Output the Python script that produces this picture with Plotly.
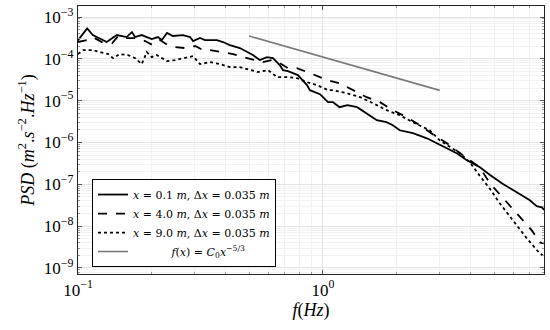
import plotly.graph_objects as go

# Solid: x = 0.1 m
f_a = [0.099, 0.109, 0.115, 0.131, 0.144, 0.158, 0.166, 0.171, 0.182, 0.200, 0.212, 0.220, 0.231, 0.244,
       0.268, 0.287, 0.295, 0.315, 0.330, 0.369, 0.391, 0.417, 0.458, 0.490, 0.518, 0.553, 0.591, 0.625,
       0.667, 0.687, 0.720, 0.791, 0.861, 0.885, 0.973, 1.05, 1.10, 1.17, 1.26, 1.38, 1.51, 1.66, 1.82,
       1.93, 2.06, 2.33, 2.66, 2.92, 3.21, 3.52, 3.87, 4.38, 4.80, 5.40, 6.19, 7.00, 7.47, 7.83, 8.06]
psd_a = [2.56e-4, 5.36e-4, 3.70e-4, 2.52e-4, 3.70e-4, 3.32e-4, 4.37e-4, 3.32e-4, 3.70e-4, 2.97e-4, 3.32e-4,
         2.81e-4, 4.14e-4, 3.51e-4, 3.70e-4, 3.32e-4, 2.66e-4, 3.14e-4, 2.81e-4, 2.81e-4, 2.52e-4, 2.13e-4,
         1.81e-4, 1.45e-4, 1.23e-4, 9.33e-5, 1.10e-4, 1.04e-4, 7.08e-5, 5.38e-5, 5.09e-5, 4.08e-5, 2.35e-5,
         1.78e-5, 1.43e-5, 9.2e-6, 9.2e-6, 6.98e-6, 7.79e-6, 6.98e-6, 5.02e-6, 3.41e-6, 3.05e-6, 2.59e-6,
         1.96e-6, 1.67e-6, 1.26e-6, 9.6e-7, 7.28e-7, 5.53e-7, 3.76e-7, 2.55e-7, 1.70e-7, 1.05e-7, 6.43e-8,
         4.14e-8, 3.0e-8, 2.81e-8, 2.38e-8]

# Dashed: x = 4.0 m
f_b = [0.100, 0.109, 0.115, 0.125, 0.138, 0.146, 0.158, 0.171, 0.188, 0.202, 0.216, 0.233, 0.249, 0.273,
       0.301, 0.324, 0.346, 0.387, 0.430, 0.471, 0.527, 0.569, 0.619, 0.667, 0.720, 0.783, 0.885, 0.973,
       1.04, 1.17, 1.32, 1.51, 1.71, 1.93, 2.20, 2.49, 2.73, 3.21, 3.73, 4.37, 4.81, 5.64, 6.37, 7.13,
       7.69, 7.98]
psd_b = [2.52e-4, 2.81e-4, 3.32e-4, 2.52e-4, 2.38e-4, 3.51e-4, 3.14e-4, 3.14e-4, 2.66e-4, 2.13e-4, 2.81e-4,
         2.13e-4, 1.91e-4, 1.81e-4, 2.02e-4, 1.62e-4, 1.62e-4, 1.45e-4, 1.30e-4, 1.10e-4, 9.33e-5, 8.36e-5,
         9.33e-5, 7.91e-5, 6.00e-5, 6.00e-5, 4.56e-5, 3.66e-5, 3.10e-5, 2.62e-5, 1.78e-5, 1.21e-5, 9.2e-6,
         5.92e-6, 4.03e-6, 2.59e-6, 1.76e-6, 9.6e-7, 4.95e-7, 2.55e-7, 1.06e-7, 3.71e-8, 1.62e-8, 7.91e-9,
         4.08e-9, 3.86e-9]

# Dotted: x = 9.0 m
f_c = [0.100, 0.105, 0.114, 0.123, 0.133, 0.139, 0.148, 0.160, 0.171, 0.182, 0.191, 0.200, 0.210, 0.220,
       0.231, 0.249, 0.273, 0.295, 0.315, 0.346, 0.380, 0.417, 0.458, 0.504, 0.543, 0.597, 0.649, 0.713,
       0.783, 0.861, 0.946, 1.05, 1.10, 1.25, 1.42, 1.60, 1.82, 2.06, 2.33, 2.73, 3.00, 3.63, 3.98, 4.37,
       4.81, 5.28, 5.97, 6.81, 7.69, 7.91]
psd_c = [1.30e-4, 1.62e-4, 1.62e-4, 1.45e-4, 1.30e-4, 1.04e-4, 1.30e-4, 1.23e-4, 1.04e-4, 7.48e-5, 1.45e-4,
         1.10e-4, 1.23e-4, 1.04e-4, 8.83e-5, 9.33e-5, 1.04e-4, 1.16e-4, 7.48e-5, 8.36e-5, 7.48e-5, 6.34e-5,
         6.34e-5, 5.38e-5, 4.82e-5, 5.38e-5, 3.66e-5, 3.66e-5, 3.46e-5, 2.77e-5, 2.35e-5, 1.78e-5, 1.78e-5,
         1.51e-5, 1.21e-5, 8.71e-6, 5.92e-6, 4.50e-6, 3.05e-6, 1.96e-6, 1.13e-6, 5.53e-7, 3.37e-7, 1.60e-7,
         7.8e-8, 3.51e-8, 1.37e-8, 5.09e-9, 2.22e-9, 1.99e-9]

# Reference slope line f(x) = C0 x^-5/3
f_ref = [0.5, 3.0]
psd_ref = [3.5e-4, 1.76e-5]

x_tickvals = [0.1, 1]
x_ticktext = ["10<sup>−1</sup>", "10<sup>0</sup>"]
y_tickvals = [1e-9, 1e-8, 1e-7, 1e-6, 1e-5, 1e-4, 1e-3]
y_ticktext = ["10<sup>−9</sup>", "10<sup>−8</sup>", "10<sup>−7</sup>", "10<sup>−6</sup>",
              "10<sup>−5</sup>", "10<sup>−4</sup>", "10<sup>−3</sup>"]
x_minor = [m * d for d in (0.1, 1.0) for m in range(2, 10)]
y_minor = [m * d for d in (1e-10, 1e-9, 1e-8, 1e-7, 1e-6, 1e-5, 1e-4, 1e-3) for m in range(2, 10)]

labels = [
    "<i>x</i> = 0.1 <i>m</i>, Δ<i>x</i> = 0.035 <i>m</i>",
    "<i>x</i> = 4.0 <i>m</i>, Δ<i>x</i> = 0.035 <i>m</i>",
    "<i>x</i> = 9.0 <i>m</i>, Δ<i>x</i> = 0.035 <i>m</i>",
    "           <i>f</i>(<i>x</i>) = <i>C</i><sub>0</sub><i>x</i><sup>−5/3</sup>",
]

FONT = "Liberation Serif"
LEGEND_FONT = "DejaVu Serif"

fig = go.Figure()
fig.add_trace(go.Scatter(x=f_a, y=psd_a, mode="lines", name=labels[0],
                         line=dict(color="black", width=1.8)))
fig.add_trace(go.Scatter(x=f_b, y=psd_b, mode="lines", name=labels[1],
                         line=dict(color="black", width=1.8, dash="dash")))
fig.add_trace(go.Scatter(x=f_c, y=psd_c, mode="lines", name=labels[2],
                         line=dict(color="black", width=1.8, dash="dot")))
fig.add_trace(go.Scatter(x=f_ref, y=psd_ref, mode="lines", name=labels[3],
                         line=dict(color="#7a7a7a", width=1.6)))

axis_common = dict(
    type="log", showline=True, linecolor="#222", linewidth=1.3, mirror="allticks",
    ticks="inside", ticklen=4, tickcolor="#555", showgrid=True, gridcolor="#e2e2e2",
    gridwidth=1, zeroline=False, automargin=False,
    tickfont=dict(family=FONT, size=17, color="black"),
)

fig.update_xaxes(**axis_common, range=[-1, 0.903], tickvals=x_tickvals, ticktext=x_ticktext,
                 minor=dict(tickvals=x_minor, ticks="inside", ticklen=2, tickcolor="#999",
                            showgrid=True, gridcolor="#f1f1f1", gridwidth=1),
                 title=dict(text="<i>f</i>(<i>Hz</i>)", font=dict(family=FONT, size=18, color="black"),
                            standoff=0))
fig.update_yaxes(**axis_common, range=[-9.144, -2.737], tickvals=y_tickvals, ticktext=y_ticktext,
                 minor=dict(tickvals=y_minor, ticks="inside", ticklen=2, tickcolor="#999",
                            showgrid=True, gridcolor="#f1f1f1", gridwidth=1),
                 title=dict(text="<i>PSD</i> (<i>m</i><sup>2</sup>.<i>s</i><sup>−2</sup>.<i>Hz</i><sup>−1</sup>)",
                            font=dict(family=FONT, size=18, color="black"), standoff=4))

fig.update_layout(
    template="none",
    width=550, height=330,
    margin=dict(l=78, r=6, t=6, b=56),
    plot_bgcolor="white", paper_bgcolor="white",
    font=dict(family=FONT, color="black"),
    legend=dict(x=0.03, y=0.026, xanchor="left", yanchor="bottom",
                bordercolor="black", borderwidth=1, bgcolor="white",
                font=dict(family=LEGEND_FONT, size=11, color="black"),
                tracegroupgap=0, itemwidth=30),
    showlegend=True,
)

fig.write_html("out.html", config={"displayModeBar": False},
               post_script="document.body.style.margin='0';document.body.style.overflow='hidden';")
